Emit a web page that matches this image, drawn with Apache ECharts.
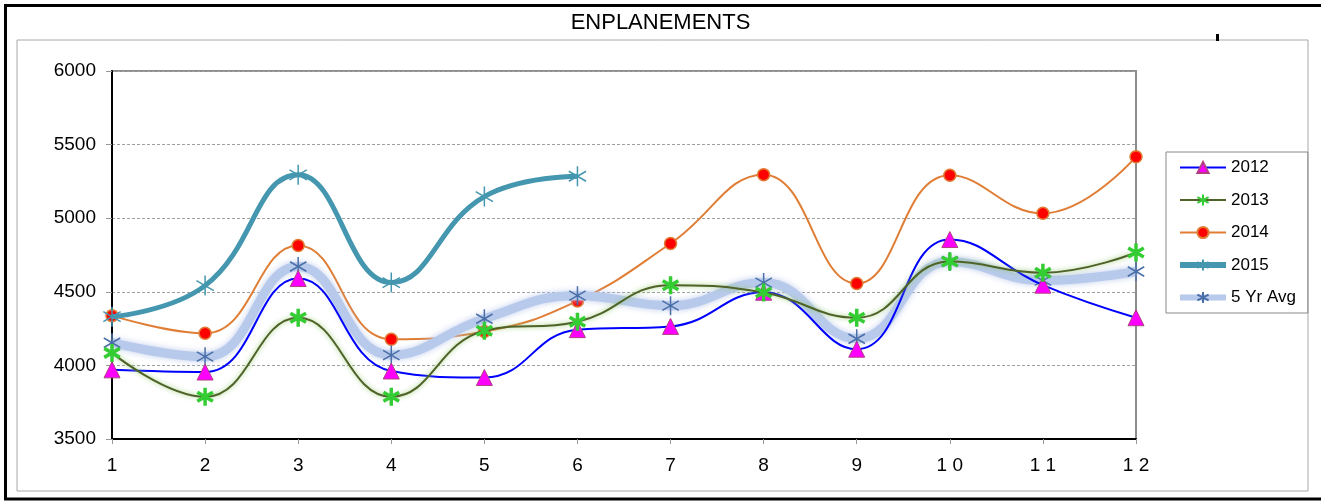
<!DOCTYPE html>
<html>
<head>
<meta charset="utf-8">
<script src="https://cdn.jsdelivr.net/npm/echarts@6/dist/echarts.min.js"></script>
<style>html,body{margin:0;padding:0;background:#fff}#c{width:1321px;height:502px}</style>
</head>
<body>
<div id="c"></div>
<script>
const categories = ['1','2','3','4','5','6','7','8','9','1 0','1 1','1 2'];
const y2012 = [3970, 3955, 4590, 3962, 3918, 4243, 4265, 4497, 4110, 4855, 4545, 4324];
const y2013 = [4085, 3787, 4324, 3787, 4235, 4297, 4545, 4495, 4324, 4706, 4630, 4767];
const y2014 = [4338, 4218, 4815, 4178, 4230, 4438, 4828, 5296, 4556, 5292, 5033, 5418];
const y2015 = [4331, 4542, 5295, 4563, 5147, 5285];
const avg5 = [4154, 4059, 4672, 4070, 4317, 4474, 4406, 4563, 4181, 4706, 4576, 4638];
const yTicks = {min: 3500, max: 6000, interval: 500};

const star = 'path://M10,0L10,20M1.34,5L18.66,15M1.34,15L18.66,5';
const font = 'Liberation Sans, Arial, sans-serif';

const chart = echarts.init(document.getElementById('c'), null, {renderer: 'canvas'});
chart.setOption({
  animation: false,
  backgroundColor: '#fff',
  title: {
    text: 'ENPLANEMENTS', left: 'center', top: 7,
    textStyle: {fontFamily: font, fontSize: 22, fontWeight: 'normal', color: '#000'}
  },
  graphic: [
    {type: 'rect', shape: {x: 17, y: 40, width: 1291, height: 451}, style: {fill: 'none', stroke: '#A8A8A8', lineWidth: 1}, z: -1},
    {type: 'line', shape: {x1: 4, y1: 5.5, x2: 1321, y2: 5.5}, style: {stroke: '#000', lineWidth: 3}},
    {type: 'line', shape: {x1: 5.5, y1: 4, x2: 5.5, y2: 500}, style: {stroke: '#000', lineWidth: 3}},
    {type: 'line', shape: {x1: 4, y1: 499, x2: 1321, y2: 499}, style: {stroke: '#000', lineWidth: 3}},
    {type: 'rect', shape: {x: 1216, y: 34, width: 3, height: 7}, style: {fill: '#000'}}
  ],
  legend: {
    orient: 'vertical', left: 1166, top: 152,
    padding: [7, 12, 7, 11],
    itemWidth: 46, itemHeight: 14, itemGap: 15.5,
    borderColor: '#888', borderWidth: 1,
    textStyle: {fontFamily: font, fontSize: 17, color: '#000'},
    data: [
      {name: '2012'},
      {name: '2013'},
      {name: '2014'},
      {name: '2015', lineStyle: {width: 6}},
      {name: '5 Yr Avg', lineStyle: {width: 6}}
    ]
  },
  grid: {
    left: 112, right: 185, top: 71, bottom: 63,
    show: true, borderColor: '#8C8C8C', borderWidth: 2, backgroundColor: 'transparent'
  },
  xAxis: {
    type: 'category', data: categories, boundaryGap: false,
    axisLine: {lineStyle: {color: '#000', width: 2}},
    axisTick: {show: true, length: 5, lineStyle: {color: '#999'}},
    axisLabel: {fontFamily: font, fontSize: 19, color: '#000', margin: 17},
    splitLine: {show: false}
  },
  yAxis: {
    type: 'value', min: yTicks.min, max: yTicks.max, interval: yTicks.interval,
    axisLine: {show: true, lineStyle: {color: '#000', width: 2}},
    axisTick: {show: true, length: 6, lineStyle: {color: '#999'}},
    axisLabel: {fontFamily: font, fontSize: 19, color: '#000', margin: 16, formatter: v => String(v)},
    splitLine: {show: true, lineStyle: {color: '#A0A0A0', type: [3, 2], width: 1}}
  },
  series: [
    {
      name: '2014', type: 'line', data: y2014, smooth: 0.45, z: 2,
      lineStyle: {color: '#E07D35', width: 2},
      symbol: 'circle', symbolSize: 12,
      itemStyle: {color: '#FF0000', borderColor: '#E07D35', borderWidth: 1.5}
    },
    {
      name: '5 Yr Avg', type: 'line', data: avg5, smooth: 0.45, z: 3,
      lineStyle: {color: '#B8CAEB', width: 9, shadowBlur: 6, shadowColor: 'rgba(185,200,235,0.9)'},
      symbol: star, symbolSize: 19, symbolKeepAspect: true,
      itemStyle: {color: '#4A6FA8', borderColor: '#4A6FA8', borderWidth: 1.5}
    },
    {
      name: '2012', type: 'line', data: y2012, smooth: 0.45, z: 4,
      lineStyle: {color: '#0000FF', width: 2},
      symbol: 'triangle', symbolSize: 16,
      itemStyle: {color: '#FF00FF', borderColor: '#B04080', borderWidth: 1}
    },
    {
      name: '2013', type: 'line', data: y2013, smooth: 0.45, z: 5,
      lineStyle: {color: '#4F6228', width: 2, shadowBlur: 5, shadowColor: 'rgba(140,200,100,0.9)'},
      symbol: star, symbolSize: 18, symbolKeepAspect: true,
      itemStyle: {color: '#33CC33', borderColor: '#33CC33', borderWidth: 3.5}
    },
    {
      name: '2015', type: 'line', data: y2015, smooth: 0.45, z: 6,
      lineStyle: {color: '#4497AF', width: 5},
      symbol: star, symbolSize: 20, symbolKeepAspect: true,
      itemStyle: {color: '#4497AF', borderColor: '#4497AF', borderWidth: 1.5}
    }
  ]
});
</script>
</body>
</html>
